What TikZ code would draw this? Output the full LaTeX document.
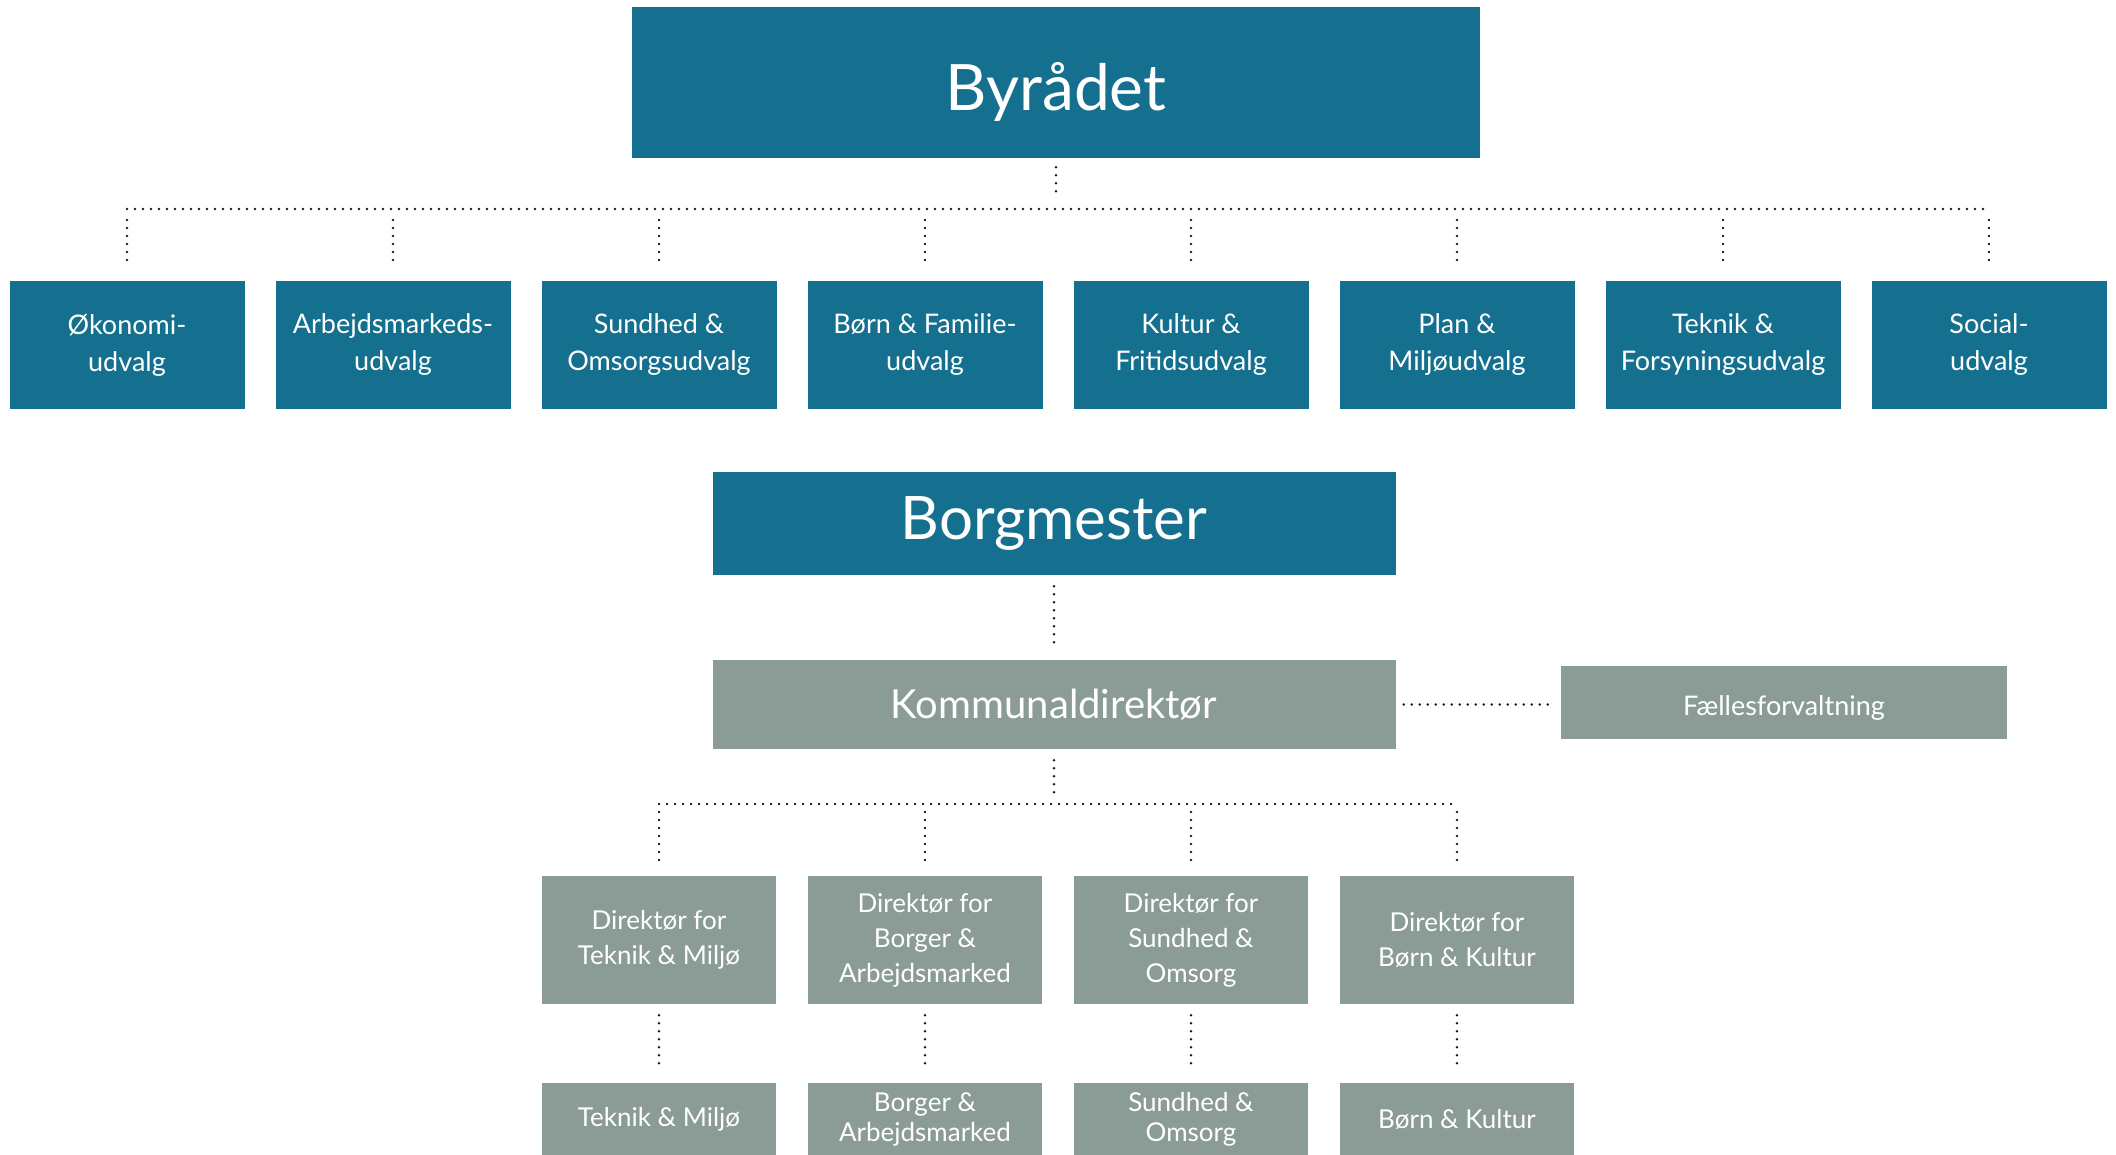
\documentclass[tikz,border=0pt]{standalone}
\usepackage{fontspec}
\setmainfont{Lato}
\definecolor{orgteal}{HTML}{14708E}
\definecolor{orggray}{HTML}{8B9C96}
\definecolor{dotcol}{HTML}{1A1A1A}
\tikzset{
  tealbox/.style={fill=orgteal, text=white, inner sep=0pt, align=center},
  graybox/.style={fill=orggray, text=white, inner sep=0pt, align=center},
  plaintext/.style={text=white, inner sep=0pt, align=center},
  udvalg/.style={tealbox, minimum width=235pt, minimum height=128pt, font=\fontsize{27}{37}\selectfont},
  dirbox/.style={graybox, minimum width=234pt, minimum height=128pt, font=\fontsize{26}{35}\selectfont},
  afdbox/.style={graybox, minimum width=234pt, minimum height=72pt, font=\fontsize{26}{30}\selectfont},
  doth/.style={draw=dotcol, line width=2.8pt, line cap=round, dash pattern=on 0pt off 8pt},
  dotv/.style={draw=dotcol, line width=2.8pt, line cap=round, dash pattern=on 0pt off 8pt},
}
\begin{document}
\begin{tikzpicture}[x=1pt,y=-1pt]
\useasboundingbox (0,0) rectangle (2116,1155);

% Top level
\node[tealbox, minimum width=848pt, minimum height=151pt] (byr) at (1056,82.5) {};
\node[plaintext, font=\fontsize{64}{70}\selectfont] (byrt) at ([yshift=-9pt]byr.center) {Byrådet};

\node[udvalg] (u1) at (127,345) {Økonomi-\\udvalg};
\node[udvalg] (u2) at (393,345) {Arbejdsmarkeds-\\udvalg};
\node[udvalg] (u3) at (659,345) {Sundhed \&\\Omsorgsudvalg};
\node[udvalg] (u4) at (925,345) {Børn \& Familie-\\udvalg};
\node[udvalg] (u5) at (1191,345) {Kultur \&\\Fritidsudvalg};
\node[udvalg] (u6) at (1457,345) {Plan \&\\Miljøudvalg};
\node[udvalg] (u7) at (1723,345) {Teknik \&\\Forsyningsudvalg};
\node[udvalg] (u8) at (1989,345) {Social-\\udvalg};

\coordinate (b1) at (1056,209);
\coordinate (b1L) at (127,209);
\coordinate (b1R) at (1989,209);
\draw[dotv, shorten <=9pt, shorten >=11pt] (byr.south) -- (b1);
\draw[doth] (b1L) -- (b1R);
\foreach \n in {u1,u2,u3,u4,u5,u6,u7,u8}
  \draw[dotv, shorten <=11pt, shorten >=13pt] (\n.north |- b1) -- (\n.north);

% Borgmester
\node[tealbox, minimum width=683pt, minimum height=103pt, font=\fontsize{60}{64}\selectfont] (borg) at (1054,523.5) {Borgmester};
\node[graybox, minimum width=683pt, minimum height=89pt, font=\fontsize{40}{44}\selectfont] (komm) at (1054,704.5) {Kommunaldirektør};
\node[graybox, minimum width=446pt, minimum height=73pt] (fael) at (1784,702.5) {};
\node[plaintext, font=\fontsize{27}{30}\selectfont] (faelt) at ([yshift=-6pt]fael.center) {Fællesforvaltning};

\draw[dotv, shorten <=11pt, shorten >=15pt] (borg.south) -- (komm.north);
\draw[doth, shorten <=8pt, shorten >=9pt] (komm.east) -- (komm.east -| fael.west);

% Directors
\node[dirbox] (d1) at (659,940) {Direktør for\\Teknik \& Miljø};
\node[dirbox] (d2) at (925,940) {Direktør for\\Borger \&\\Arbejdsmarked};
\node[dirbox] (d3) at (1191,940) {Direktør for\\Sundhed \&\\Omsorg};
\node[dirbox] (d4) at (1457,940) {Direktør for\\Børn \& Kultur};

\coordinate (b2) at (1054,804);
\coordinate (b2L) at (659,804);
\coordinate (b2R) at (1457,804);
\draw[dotv, shorten <=11pt, shorten >=8pt] (komm.south) -- (b2);
\draw[doth] (b2L) -- (b2R);
\foreach \n in {d1,d2,d3,d4}
  \draw[dotv, shorten <=8pt, shorten >=12pt] (\n.north |- b2) -- (\n.north);

% Departments
\node[afdbox] (a1) at (659,1119) {Teknik \& Miljø};
\node[afdbox] (a2) at (925,1119) {Borger \&\\Arbejdsmarked};
\node[afdbox] (a3) at (1191,1119) {Sundhed \&\\Omsorg};
\node[afdbox] (a4) at (1457,1119) {Børn \& Kultur};

\draw[dotv, shorten <=11pt, shorten >=14pt] (d1.south) -- (a1.north);
\draw[dotv, shorten <=11pt, shorten >=14pt] (d2.south) -- (a2.north);
\draw[dotv, shorten <=11pt, shorten >=14pt] (d3.south) -- (a3.north);
\draw[dotv, shorten <=11pt, shorten >=14pt] (d4.south) -- (a4.north);
\end{tikzpicture}
\end{document}
